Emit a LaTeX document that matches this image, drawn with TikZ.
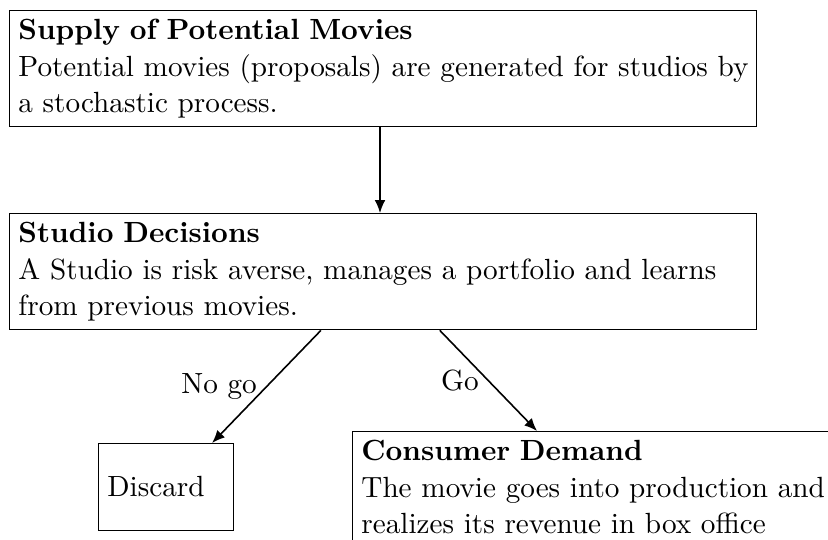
\documentclass[tikz,border=0pt]{standalone}
\usetikzlibrary{arrows.meta,calc}
\begin{document}
\begin{tikzpicture}[x=0.375pt,y=-0.375pt,
  every node/.style={font=\fontsize{10.95}{13.6}\selectfont},
  infobox/.style={draw,anchor=north west,align=left,inner sep=0.3333em},
  arr/.style={-{Latex[length=4.8pt,width=4pt]},semithick},
  lbl/.style={left,inner sep=0.3333em}]
\clip (0,0) rectangle (828,540);
\useasboundingbox (0,0) rectangle (828,540);
\node[infobox,text width=273.4pt] (sup) at (9,10)
  {\textbf{Supply of Potential Movies}\\\mbox{Potential movies (proposals) are generated for studios by}\\a stochastic process.};
\node[infobox,text width=273.4pt] (stu) at (9,213)
  {\textbf{Studio Decisions}\\\mbox{A Studio is risk averse, manages a portfolio and learns}\\from previous movies.};
\node[infobox,text width=44pt,minimum height=32.6pt] (dis) at (98,443) {Discard};
\node[infobox,text width=200pt] (con) at (352,431)
  {\textbf{Consumer Demand}\\The movie goes into production and\\realizes its revenue in box office};
\coordinate (s1) at ($(stu.south west)!0.417!(stu.south east)$);
\coordinate (s2) at ($(stu.south west)!0.576!(stu.south east)$);
\coordinate (d1) at ($(dis.north west)!0.838!(dis.north east)$);
\coordinate (c1) at ($(con.north west)+(185,0)$);
\draw[arr] (sup.south -| 380,0) -- (stu.north -| 380,0);
\draw[arr] (s1) -- node[lbl] {No go} (d1);
\draw[arr] (s2) -- node[lbl] {Go} (c1);
\end{tikzpicture}
\end{document}
